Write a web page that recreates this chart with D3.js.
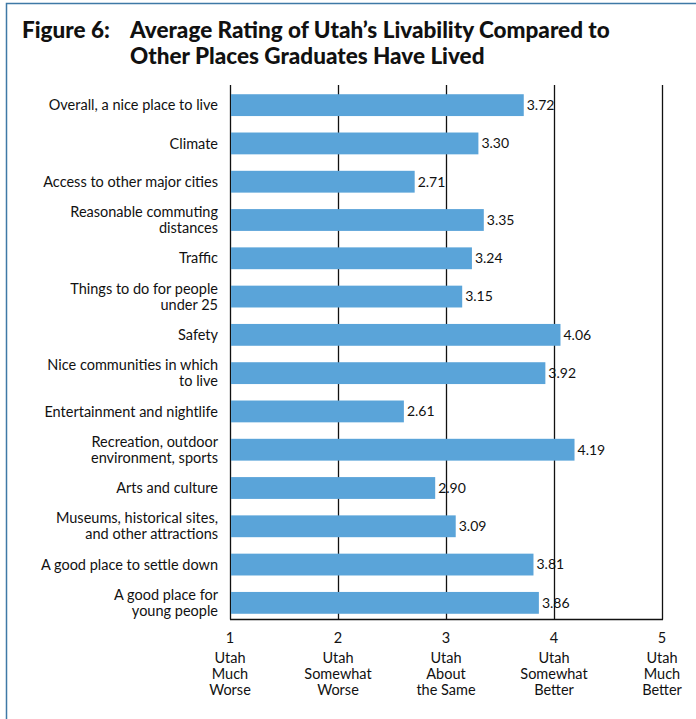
<!DOCTYPE html>
<html>
<head>
<meta charset="utf-8">
<script src="https://cdn.jsdelivr.net/npm/d3@7"></script>
<style>
    body { margin: 0; background: #fff; }
    svg { display: block; }
    text { font-family: Lato, "Open Sans", sans-serif; fill: #111; }
</style>
</head>
<body>
<div id="chart"></div>
<script>
// Chart data
const categories = [
    ['Overall, a nice place to live'],
    ['Climate'],
    ['Access to other major cities'],
    ['Reasonable commuting', 'distances'],
    ['Traffic'],
    ['Things to do for people', 'under 25'],
    ['Safety'],
    ['Nice communities in which', 'to live'],
    ['Entertainment and nightlife'],
    ['Recreation, outdoor', 'environment, sports'],
    ['Arts and culture'],
    ['Museums, historical sites,', 'and other attractions'],
    ['A good place to settle down'],
    ['A good place for', 'young people']
];
const ratings = [3.72, 3.30, 2.71, 3.35, 3.24, 3.15, 4.06, 3.92, 2.61, 4.19, 2.90, 3.09, 3.81, 3.86];
const tickValues = [1, 2, 3, 4, 5];
const tickLabels = [
    ['Utah', 'Much', 'Worse'],
    ['Utah', 'Somewhat', 'Worse'],
    ['Utah', 'About', 'the Same'],
    ['Utah', 'Somewhat', 'Better'],
    ['Utah', 'Much', 'Better']
];

const width = 696, height = 719;
const barColor = '#5aa4d9';

const svg = d3.select('#chart').append('svg')
    .attr('width', width)
    .attr('height', height);

// Frame (top and left edges only are visible)
svg.append('path')
    .attr('d', `M6.5,${height} V3.5 H${width}`)
    .attr('fill', 'none')
    .attr('stroke', '#3f79a6')
    .attr('stroke-width', 1.5);

// Title
const title = svg.append('g').attr('font-weight', 900).attr('font-size', 22.5);
title.append('text').attr('x', 22).attr('y', 38).text('Figure 6:');
title.append('text').attr('x', 130).attr('y', 38).text('Average Rating of Utah\u2019s Livability Compared to');
title.append('text').attr('x', 130).attr('y', 64).text('Other Places Graduates Have Lived');

const keys = categories.map((c, i) => i);

const x = d3.scaleLinear().domain([1, 5]).range([230, 662]);
const y = d3.scaleBand()
    .domain(keys)
    .range([86, 622])
    .paddingInner(0.43)
    .paddingOuter(0.215);

const axisY = 619.5;

// Vertical gridlines
svg.append('g').selectAll('line')
    .data(tickValues)
    .join('line')
    .attr('x1', d => Math.round(x(d)) + 0.5)
    .attr('x2', d => Math.round(x(d)) + 0.5)
    .attr('y1', 85)
    .attr('y2', axisY)
    .attr('stroke', '#111')
    .attr('stroke-width', 1.3);

// Bottom axis line
svg.append('line')
    .attr('x1', x(1))
    .attr('x2', x(5) + 1)
    .attr('y1', axisY)
    .attr('y2', axisY)
    .attr('stroke', '#111')
    .attr('stroke-width', 1.3);

// Bars
svg.append('g').selectAll('rect')
    .data(ratings)
    .join('rect')
    .attr('x', x(1) + 1)
    .attr('y', (d, i) => y(i))
    .attr('width', d => x(d) - x(1) - 1)
    .attr('height', y.bandwidth())
    .attr('fill', barColor);

// Value labels
svg.append('g').selectAll('text')
    .data(ratings)
    .join('text')
    .attr('x', d => x(d) + 3)
    .attr('y', (d, i) => y(i) + y.bandwidth() / 2)
    .attr('dy', '0.35em')
    .attr('font-size', 14)
    .text(d => d.toFixed(2));

// Category labels
const catLabels = svg.append('g').selectAll('text')
    .data(categories)
    .join('text')
    .attr('text-anchor', 'end')
    .attr('font-size', 14.5)
    .attr('x', 218)
    .attr('y', (d, i) => y(i) + y.bandwidth() / 2 - (d.length - 1) * 8);

catLabels.selectAll('tspan')
    .data(d => d)
    .join('tspan')
    .attr('x', 218)
    .attr('dy', (d, i) => i === 0 ? '0.35em' : 16)
    .text(d => d);

// Tick numbers and descriptions
const ticks = svg.append('g').selectAll('g')
    .data(tickValues)
    .join('g')
    .attr('transform', d => `translate(${x(d)},0)`);

ticks.append('text')
    .attr('text-anchor', 'middle')
    .attr('y', 643)
    .attr('font-size', 14.5)
    .text(d => d);

ticks.append('text')
    .attr('text-anchor', 'middle')
    .attr('font-size', 14.5)
    .selectAll('tspan')
    .data((d, i) => tickLabels[i])
    .join('tspan')
    .attr('x', 0)
    .attr('y', (d, i) => 663 + i * 16)
    .text(d => d);
</script>
</body>
</html>
